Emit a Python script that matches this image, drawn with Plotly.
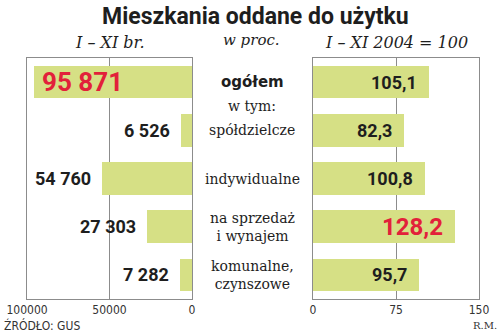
import plotly.graph_objects as go

# Data
categories = ["ogółem", "spółdzielcze", "indywidualne", "na sprzedaż<br>i wynajem", "komunalne,<br>czynszowe"]
units_built = [95871, 6526, 54760, 27303, 7282]          # I - XI br.
index_2004 = [105.1, 82.3, 100.8, 128.2, 95.7]            # I - XI 2004 = 100
left_ticks = [100000, 50000, 0]
right_ticks = [0, 75, 150]

BAR = "#d6e085"
RED = "#e2213a"
INK = "#1e1e1e"
LINE = "#8c8c8c"
W, H = 500, 332

positions = list(range(len(categories)))


def py(y_px):
    return 1 - y_px / H


def px(x_px):
    return x_px / W


def fmt_int(v):
    return f"{v:,}".replace(",", " ")


def fmt_dec(v):
    return f"{v:.1f}".replace(".", ",")


fig = go.Figure()
fig.add_trace(go.Bar(x=units_built, y=positions, orientation="h", width=0.68,
                     marker=dict(color=BAR, line=dict(width=0)),
                     xaxis="x", yaxis="y", hoverinfo="skip"))
fig.add_trace(go.Bar(x=index_2004, y=positions, orientation="h", width=0.68,
                     marker=dict(color=BAR, line=dict(width=0)),
                     xaxis="x2", yaxis="y2", hoverinfo="skip"))

y_dom = [py(299), py(58)]
axis_common = dict(showline=True, linecolor=LINE, linewidth=1, mirror=True,
                   zeroline=False, fixedrange=True, automargin=False)
tick_font = dict(family="DejaVu Sans Condensed", size=12, color="#333")

fig.update_layout(
    width=W, height=H, autosize=False,
    margin=dict(l=0, r=0, t=0, b=0, autoexpand=False),
    paper_bgcolor="white", plot_bgcolor="white",
    showlegend=False, bargap=0,
    xaxis=dict(domain=[px(27), px(192)], range=[100000, 0], anchor="y",
               tickvals=left_ticks, ticktext=[str(t) for t in left_ticks],
               showgrid=True, gridcolor=LINE, gridwidth=1,
               ticks="", tickfont=tick_font, **axis_common),
    xaxis2=dict(domain=[px(313), px(479)], range=[0, 150], anchor="y2",
                tickvals=right_ticks, ticktext=[str(t) for t in right_ticks],
                showgrid=True, gridcolor=LINE, gridwidth=1,
                ticks="", tickfont=tick_font, **axis_common),
    yaxis=dict(domain=y_dom, range=[4.5, -0.5], anchor="x",
               showticklabels=False, showgrid=False, **axis_common),
    yaxis2=dict(domain=y_dom, range=[4.5, -0.5], anchor="x2",
                showticklabels=False, showgrid=False, **axis_common),
)

ann = []

# Title and column headers
ann.append(dict(text="<b>Mieszkania oddane do użytku</b>", x=px(255), y=py(16),
                font=dict(family="Roboto", size=23, color=INK)))
ann.append(dict(text="<i>I – XI br.</i>", x=px(110), y=py(42),
                font=dict(family="DejaVu Serif", size=16, color=INK)))
ann.append(dict(text="<i>w proc.</i>", x=px(251), y=py(40),
                font=dict(family="DejaVu Serif", size=15, color=INK)))
ann.append(dict(text="<i>I – XI 2004 = 100</i>", x=px(396), y=py(42),
                font=dict(family="DejaVu Serif", size=16, color=INK)))
for a in ann:
    a.update(xref="paper", yref="paper", showarrow=False, xanchor="center", yanchor="middle")

# Category labels between the panels
for i, cat in enumerate(categories):
    if i == 0:
        text = f"<b>{cat}</b>"
        font = dict(family="DejaVu Sans", size=15, color=INK)
    else:
        text = cat
        font = dict(family="DejaVu Serif", size=14, color=INK)
    ann.append(dict(text=text, x=px(252), y=i, xref="paper", yref="y",
                    showarrow=False, xanchor="center", yanchor="middle",
                    font=font))
ann.append(dict(text="w tym:", x=px(252), y=0.5, xref="paper", yref="y",
                showarrow=False, xanchor="center", yanchor="middle",
                font=dict(family="DejaVu Serif", size=14, color=INK)))

# Value labels, left panel
for i, v in enumerate(units_built):
    if i == 0:
        ann.append(dict(text=f"<b>{fmt_int(v)}</b>", x=v, y=i, xref="x", yref="y",
                        xanchor="left", yanchor="middle", xshift=6, showarrow=False,
                        font=dict(family="Roboto", size=26, color=RED)))
    else:
        ann.append(dict(text=f"<b>{fmt_int(v)}</b>", x=v, y=i, xref="x", yref="y",
                        xanchor="right", yanchor="middle", xshift=-9, showarrow=False,
                        font=dict(family="Roboto", size=18, color=INK)))

# Value labels, right panel
for i, v in enumerate(index_2004):
    highlight = v == max(index_2004)
    ann.append(dict(text=f"<b>{fmt_dec(v)}</b>", x=v, y=i, xref="x2", yref="y2",
                    xanchor="right", yanchor="middle", xshift=-10, showarrow=False,
                    font=dict(family="Roboto", size=24 if highlight else 18,
                              color=RED if highlight else INK)))

# Footer
ann.append(dict(text="ŹRÓDŁO: GUS", x=px(2), y=py(325), xref="paper", yref="paper",
                xanchor="left", yanchor="middle", showarrow=False,
                font=dict(family="DejaVu Sans Condensed", size=12, color="#333")))
ann.append(dict(text="R.M.", x=px(499), y=py(325), xref="paper", yref="paper",
                xanchor="right", yanchor="middle", showarrow=False,
                font=dict(family="DejaVu Serif", size=10, color="#333")))

fig.update_layout(annotations=ann)
fig.write_html("out.html")
